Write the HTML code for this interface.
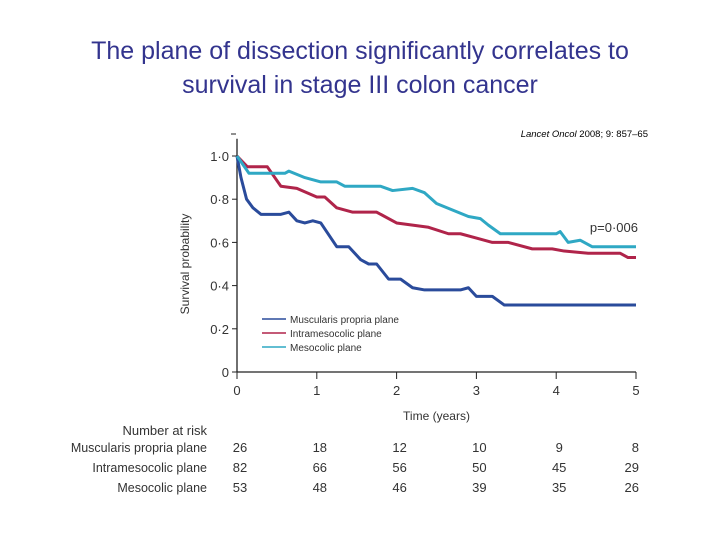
<!DOCTYPE html>
<html><head><meta charset="utf-8"><style>
body{margin:0;background:#fff;width:720px;height:540px;overflow:hidden;font-family:"Liberation Sans",sans-serif}
.t{position:absolute;left:0;width:720px;text-align:center;color:#33348e;font-size:25px;line-height:34px}
</style></head><body>
<div class="t" style="top:34px">The plane of dissection significantly correlates to<br>survival in stage III colon cancer</div>
<svg id="c" width="720" height="540" style="position:absolute;left:0;top:0"></svg>
<script>
const seriesNames=["Muscularis propria plane","Intramesocolic plane","Mesocolic plane"];
const seriesColors=["#2a4b9b","#b0244a","#2fa8c4"];
const blueT=[0,0.05,0.12,0.2,0.3,0.55,0.65,0.75,0.85,0.95,1.05,1.25,1.4,1.55,1.65,1.75,1.9,2.05,2.2,2.35,2.8,2.9,3.0,3.2,3.35,5];
const blueV=[1,0.9,0.8,0.76,0.73,0.73,0.74,0.70,0.69,0.70,0.69,0.58,0.58,0.52,0.50,0.50,0.43,0.43,0.39,0.38,0.38,0.39,0.35,0.35,0.31,0.31];
const redT=[0,0.13,0.38,0.55,0.75,1.0,1.1,1.25,1.45,1.75,2.0,2.2,2.4,2.65,2.8,3.0,3.2,3.4,3.7,3.95,4.1,4.4,4.8,4.9,5];
const redV=[1,0.95,0.95,0.86,0.85,0.81,0.81,0.76,0.74,0.74,0.69,0.68,0.67,0.64,0.64,0.62,0.60,0.60,0.57,0.57,0.56,0.55,0.55,0.53,0.53];
const cyanT=[0,0.15,0.6,0.65,0.85,1.05,1.25,1.35,1.8,1.95,2.2,2.35,2.5,2.7,2.9,3.05,3.15,3.3,4.0,4.05,4.15,4.3,4.45,5];
const cyanV=[1,0.92,0.92,0.93,0.90,0.88,0.88,0.86,0.86,0.84,0.85,0.83,0.78,0.75,0.72,0.71,0.68,0.64,0.64,0.65,0.60,0.61,0.58,0.58];
const yTicks=[0,0.2,0.4,0.6,0.8,1.0];
const yLabels=["0","0·2","0·4","0·6","0·8","1·0"];
const xTicks=[0,1,2,3,4,5];
const riskMus=[26,18,12,10,9,8];
const riskIntra=[82,66,56,50,45,29];
const riskMeso=[53,48,46,39,35,26];
const NS="http://www.w3.org/2000/svg",svg=document.getElementById('c');
const X=t=>237+t*79.8, Y=v=>372-v*216;
function mk(tag,a,txt){const e=document.createElementNS(NS,tag);for(const k in a)e.setAttribute(k,a[k]);if(txt!==undefined)e.textContent=txt;svg.appendChild(e);return e;}
const F='"Liberation Sans",sans-serif';
let e=mk('line',{x1:X(0),y1:Y(1.08),x2:X(0),y2:Y(0),stroke:'#222','stroke-width':1.3});

e=mk('line',{x1:X(0),y1:Y(0),x2:X(5),y2:Y(0),stroke:'#222','stroke-width':1.3});

mk('line',{x1:231,y1:134,x2:236,y2:134,stroke:'#222'});
yTicks.forEach((v,i)=>{mk('line',{x1:X(0)-5,y1:Y(v),x2:X(0),y2:Y(v),stroke:'#222'});
 e=mk('text',{x:X(0)-8,y:Y(v)+5,'text-anchor':'end','font-size':13,fill:'#333','font-family':F},yLabels[i]);
 });
xTicks.forEach(t=>{mk('line',{x1:X(t),y1:Y(0),x2:X(t),y2:Y(0)+7,stroke:'#222'});
 e=mk('text',{x:X(t),y:Y(0)+23,'text-anchor':'middle','font-size':13,fill:'#333','font-family':F},t);
 });
e=mk('text',{x:X(2.5),y:420,'text-anchor':'middle','font-size':12,fill:'#333','font-family':F},'Time (years)');

e=mk('text',{x:189,y:Y(0.5),'text-anchor':'middle','font-size':12,fill:'#333','font-family':F,transform:`rotate(-90 189 ${Y(0.5)})`},'Survival probability');

[[blueT,blueV],[redT,redV],[cyanT,cyanV]].forEach((s,i)=>{
 const pts=s[0].map((t,j)=>X(t)+','+Y(s[1][j])).join(' ');
 e=mk('polyline',{points:pts,fill:'none',stroke:seriesColors[i],'stroke-width':3,'stroke-linejoin':'round'});
 
 mk('line',{x1:262,y1:319+i*14,x2:286,y2:319+i*14,stroke:seriesColors[i],'stroke-width':1.5});
 e=mk('text',{x:290,y:323+i*14,'font-size':10,fill:'#333','font-family':F},seriesNames[i]);
 });
e=mk('text',{x:638,y:232,'text-anchor':'end','font-size':13,fill:'#333','font-family':F},'p=0·006');

e=mk('text',{x:648,y:137,'text-anchor':'end','font-size':9.5,fill:'#000','font-family':F},'');
e.innerHTML='<tspan font-style="italic">Lancet Oncol</tspan> 2008; 9: 857–65';

e=mk('text',{x:207,y:435,'text-anchor':'end','font-size':13,fill:'#333','font-family':F},'Number at risk');

[riskMus,riskIntra,riskMeso].forEach((r,i)=>{const y=452+i*20;
 e=mk('text',{x:207,y:y,'text-anchor':'end','font-size':12.5,fill:'#333','font-family':F},seriesNames[i]);
 
 r.forEach((n,j)=>{e=mk('text',{x:j==5?X(j)+3:X(j)+3,y:y,'text-anchor':j==5?'end':'middle','font-size':13,fill:'#333','font-family':F},n);
 });});
</script>
</body></html>
